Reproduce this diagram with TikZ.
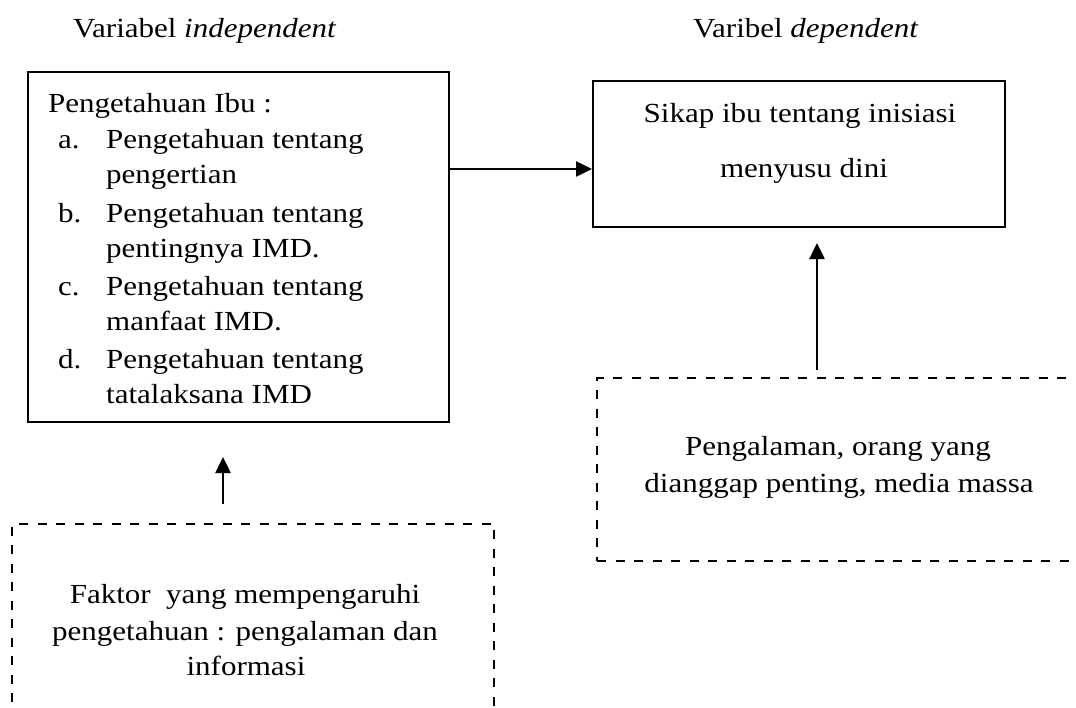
\documentclass[tikz,border=0pt]{standalone}
\usepackage{fontspec}
\setmainfont{Liberation Serif}
\usetikzlibrary{arrows.meta}
\newcommand{\sqz}[1]{\scalebox{1}[0.89]{#1}}
\tikzset{
  txt/.style={anchor=base west, inner sep=0pt, font=\fontsize{31}{36}\selectfont},
  ctxt/.style={anchor=base, inner sep=0pt, font=\fontsize{31}{36}\selectfont},
  solidbox/.style={draw, line width=2pt, rectangle, inner sep=0pt},
  dashbox/.style={draw, line width=2.5pt, rectangle, inner sep=0pt, dash pattern=on 9pt off 9.5pt},
  arr/.style={line width=2.5pt, -{Triangle[length=16pt,width=15pt]}},
}
\begin{document}
\begin{tikzpicture}[x=1pt,y=-1pt]
\useasboundingbox (0,0) rectangle (1076,707);
\clip (0,0) rectangle (1076,707);
\fill[white] (0,0) rectangle (1076,707);

% titles
\node[txt] (t1) at (73,37) {\sqz{Variabel \textit{independent}}};
\node[txt] (t2) at (693,37) {\sqz{Varibel \textit{dependent}}};

% left solid box
\node[solidbox, minimum width=421pt, minimum height=350pt] (ibu) at (238.5,247) {};
\node[txt] (l0) at (48,112) {\sqz{Pengetahuan Ibu :}};
\node[txt] (la) at (58,148) {\sqz{a.}};
\node[txt] (la1) at (106,148) {\sqz{Pengetahuan tentang}};
\node[txt] (la2) at (106,183) {\sqz{pengertian}};
\node[txt] (lb) at (58,222) {\sqz{b.}};
\node[txt] (lb1) at (106,222) {\sqz{Pengetahuan tentang}};
\node[txt] (lb2) at (106,257) {\sqz{pentingnya IMD.}};
\node[txt] (lc) at (58,295) {\sqz{c.}};
\node[txt] (lc1) at (106,295) {\sqz{Pengetahuan tentang}};
\node[txt] (lc2) at (106,330) {\sqz{manfaat IMD.}};
\node[txt] (ld) at (58,368) {\sqz{d.}};
\node[txt] (ld1) at (106,368) {\sqz{Pengetahuan tentang}};
\node[txt] (ld2) at (106,403) {\sqz{tatalaksana IMD}};

% right solid box
\node[solidbox, minimum width=412pt, minimum height=146pt] (sikap) at (799,154) {};
\node[ctxt] (s1) at (800,122) {\sqz{Sikap ibu tentang inisiasi}};
\node[ctxt] (s2) at (804,177) {\sqz{menyusu dini}};

% right dashed box
\node[dashbox, minimum width=513pt, minimum height=183pt] (peng) at (853.5,469.5) {};
\node[ctxt] (p1) at (838,455) {\sqz{Pengalaman, orang yang}};
\node[ctxt] (p2) at (839,492) {\sqz{dianggap penting, media massa}};

% left dashed box
\node[dashbox, minimum width=482pt, minimum height=236pt] (fak) at (253,642) {};
\node[ctxt] (f1) at (245,603) {\sqz{Faktor\ \ yang mempengaruhi}};
\node[ctxt] (f2) at (245,640) {\sqz{pengetahuan : pengalaman dan}};
\node[ctxt] (f3) at (246,675) {\sqz{informasi}};

% connectors
\coordinate (h) at (0,169);
\draw[arr] (ibu.east |- h) -- (sikap.west |- h);
\coordinate (r1) at (817,370);
\coordinate (r2) at (817,243);
\draw[arr] (r1) -- (r2);
\coordinate (q1) at (223,504);
\coordinate (q2) at (223,457);
\draw[arr] (q1) -- (q2);
\end{tikzpicture}
\end{document}
